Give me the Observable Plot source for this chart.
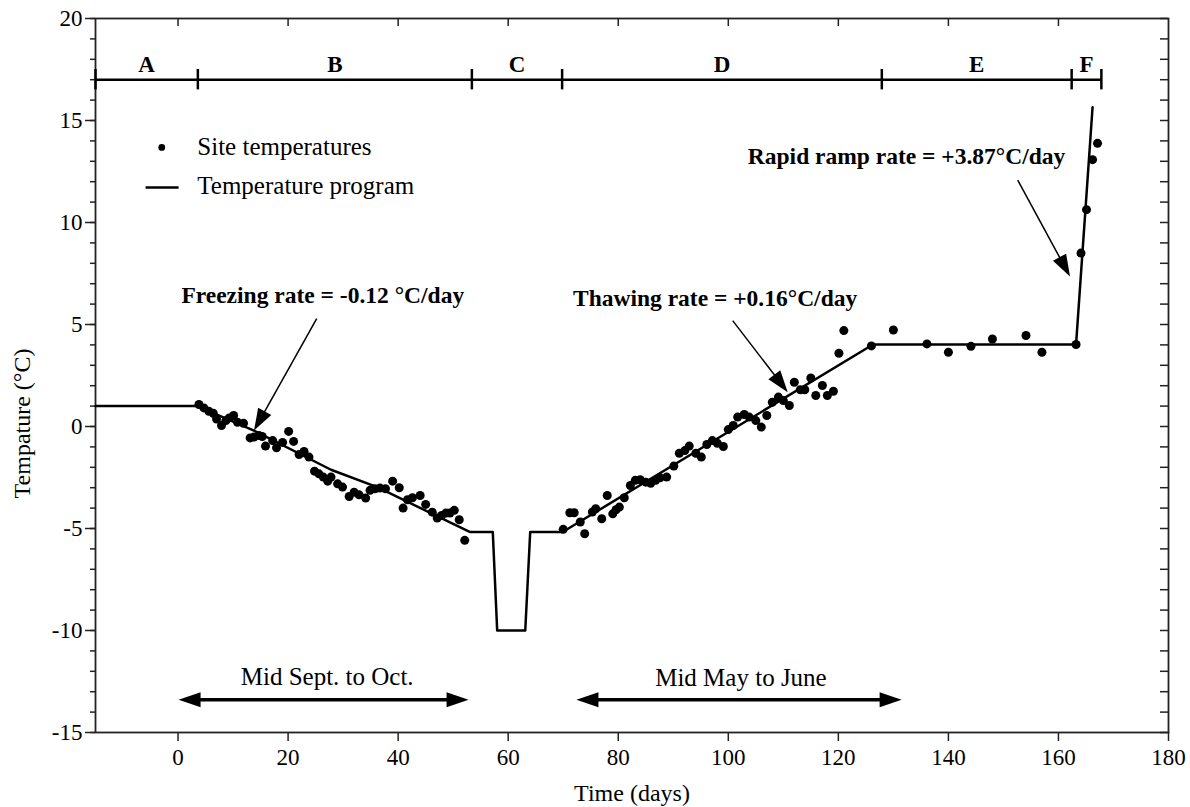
<!DOCTYPE html>
<html><head><meta charset="utf-8">
<script src="https://cdn.jsdelivr.net/npm/d3@7"></script>
<script src="https://cdn.jsdelivr.net/npm/@observablehq/plot@0.6"></script>
<style>
html,body{margin:0;padding:0;background:#fff;}
#chart{width:1190px;height:807px;}
</style></head><body><div id="chart"></div>
<script>
// ---------- data ----------
const siteDay = [3.8,4.7,5.6,6.4,7.0,7.9,8.7,9.3,10.1,10.8,11.9,13.1,13.8,14.7,15.3,15.9,17.2,17.9,19.0,20.1,21.0,22.0,22.9,23.8,24.8,25.6,26.4,27.2,27.8,29.0,29.9,31.1,32.0,32.9,34.1,34.9,35.8,36.7,37.7,39.0,40.2,40.9,41.7,42.6,44.0,45.0,46.2,47.1,47.9,48.7,49.4,50.2,51.1,52.1,
  70.0,71.2,72.0,73.1,73.9,75.3,75.9,77.0,78.0,79.0,79.6,80.2,81.1,82.2,83.1,84.0,85.0,85.9,86.8,87.6,88.8,90.1,91.1,92.1,92.9,94.1,95.1,96.1,97.1,98.0,99.1,100.0,100.9,101.7,102.9,103.8,105.0,106.0,107.0,108.0,109.1,110.0,111.1,112.0,113.1,113.9,115.0,115.9,117.1,118.0,119.1,120.1,121.0,
  126.0,130.0,136.1,140.0,144.1,148.0,154.1,157.0,163.2,164.1,165.1,166.2,167.1];
const siteTemp = [1.08,0.91,0.75,0.65,0.37,0.05,0.29,0.42,0.54,0.21,0.16,-0.56,-0.52,-0.44,-0.49,-0.96,-0.69,-1.04,-0.78,-0.24,-0.73,-1.37,-1.22,-1.50,-2.19,-2.32,-2.48,-2.68,-2.48,-2.81,-2.97,-3.43,-3.22,-3.35,-3.51,-3.13,-3.05,-3.02,-3.05,-2.68,-3.00,-4.00,-3.59,-3.49,-3.38,-3.82,-4.20,-4.49,-4.36,-4.24,-4.24,-4.11,-4.57,-5.58,
  -5.04,-4.23,-4.23,-4.68,-5.26,-4.19,-4.03,-4.52,-3.38,-4.28,-4.08,-3.95,-3.49,-2.89,-2.64,-2.61,-2.73,-2.78,-2.64,-2.51,-2.48,-1.94,-1.31,-1.18,-0.96,-1.31,-1.50,-0.88,-0.69,-0.82,-0.98,-0.15,0.05,0.46,0.59,0.46,0.29,-0.03,0.54,1.19,1.44,1.27,1.03,2.17,1.80,1.80,2.38,1.52,2.01,1.52,1.73,3.59,4.70,
  3.95,4.73,4.05,3.64,3.93,4.29,4.46,3.64,4.02,8.50,10.63,13.08,13.88];

const programDay  = [-15, 3.5, 13.8, 27.8, 36.2, 53.0, 57.2, 58.0, 63.1, 64.0, 69.9, 126.3, 163.2, 166.2];
const programTemp = [1.0, 1.0, -0.2, -2.12, -2.97, -5.17, -5.17, -10, -10, -5.17, -5.17, 4.02, 4.02, 15.65];

const phaseNames  = ["A", "B", "C", "D", "E", "F"];
const phaseBounds = [-15, 3.6, 53.4, 69.8, 127.9, 162.4, 167.8];
const phaseLevel  = 17.0;

const xTicks = [0, 20, 40, 60, 80, 100, 120, 140, 160, 180];
const yTicks = [-15, -10, -5, 0, 5, 10, 15, 20];
const yMinorTicks = d3.range(-15, 21);

const legendLabels = ["Site temperatures", "Temperature program"];
const rateLabels   = ["Freezing rate = -0.12 °C/day", "Thawing rate = +0.16°C/day", "Rapid ramp rate = +3.87°C/day"];
const seasonLabels = ["Mid Sept. to Oct.", "Mid May to June"];
const xTitle = "Time (days)";
const yTitle = "Tempature (°C)";

// ---------- layout (not data) ----------
const W = 1190, H = 807, ML = 95, MR = 22, MT = 18, MB = 75;
const xDomain = [-15, 180], yDomain = [-15, 20];
const kx = (W - ML - MR) / (xDomain[1] - xDomain[0]);
const ky = (H - MT - MB) / (yDomain[1] - yDomain[0]);
const FONT = "Liberation Serif, Times New Roman, serif";

// annotation anchors in data units
const rateTextPos = [{x: 26.3, y: 6.06}, {x: 97.6, y: 5.93}, {x: 132.4, y: 12.88}];
const rateArrowPos = [[25.2, 5.29, 13.8, -0.2], [100.8, 5.19, 110.8, 1.68], [152.6, 12.08, 162.1, 7.35]];
const seasonArrowPos = [[0.1, 52.8, -13.4], [72.4, 131.5, -13.4]];
const seasonTextPos = [{x: 27.1, y: -12.65}, {x: 102.3, y: -12.7}];
const legendPos = {dotX: -2.96, dotY: 13.68, textX: 3.5, t1: 13.32, lineX1: -5.9, lineX2: 0.1, lineY: 11.72, t2: 11.41};

// ---------- derived tables ----------
const site = siteDay.map((d, i) => ({day: d, temp: siteTemp[i]}));
const program = programDay.map((d, i) => ({day: d, temp: programTemp[i]}));
const phases = phaseNames.map((n, i) => ({name: n, x1: phaseBounds[i], x2: phaseBounds[i + 1]}));

const HEAD_L = 22, HEAD_W = 15;
const arrowHead = {draw(ctx) { ctx.moveTo(0, 0); ctx.lineTo(-HEAD_L, -HEAD_W / 2); ctx.lineTo(-HEAD_L, HEAD_W / 2); ctx.closePath(); }};

function angleOf(x1, y1, x2, y2) {
  return Math.atan2(-(y2 - y1) * ky, (x2 - x1) * kx) * 180 / Math.PI;
}
const rateLines = rateArrowPos.map(([x1, y1, x2, y2]) => {
  const dxp = (x2 - x1) * kx, dyp = (y2 - y1) * ky, len = Math.hypot(dxp, dyp);
  const f = (len - HEAD_L * 0.6) / len;
  return {x1, y1, x2: x1 + (x2 - x1) * f, y2: y1 + (y2 - y1) * f};
});
const rateHeads = rateArrowPos.map(([x1, y1, x2, y2]) => ({x: x2, y: y2, r: angleOf(x1, y1, x2, y2)}));
const seasonLines = seasonArrowPos.map(([a, b, y]) => ({x1: a + HEAD_L * 0.5 / kx, x2: b - HEAD_L * 0.5 / kx, y}));
const seasonHeads = seasonArrowPos.flatMap(([a, b, y]) => [{x: a, y, r: 180}, {x: b, y, r: 0}]);

const fmt = d => String(d);

const plot = Plot.plot({
  width: W, height: H,
  marginLeft: ML, marginRight: MR, marginTop: MT, marginBottom: MB,
  x: {domain: xDomain, label: null},
  y: {domain: yDomain, label: null},
  style: {fontFamily: FONT, fontSize: "23px", color: "black", background: "white"},
  marks: [
    // axes
    Plot.axisY({ticks: yMinorTicks, tickSize: 5, fill: "none", stroke: "#222", strokeWidth: 1.5, label: null}),
    Plot.axisY({ticks: yTicks, tickSize: 10, tickPadding: 3, tickFormat: fmt, fontSize: 23, fill: "black", stroke: "#222", strokeWidth: 1.5, label: null}),
    Plot.axisX({ticks: xTicks, anchor: "bottom", tickSize: 9, tickPadding: 7, tickFormat: fmt, fontSize: 23, fill: "black", stroke: "#222", strokeWidth: 1.5, label: null}),
    Plot.tickX(xTicks.slice(0, -1), {x: d => d, insetBottom: H - MT - MB - 8, stroke: "#222", strokeWidth: 1.5}),
    Plot.tickY(yMinorTicks, {y: d => d, insetLeft: W - ML - MR - 8, stroke: "#222", strokeWidth: 1.5}),
    Plot.frame({stroke: "#222", strokeWidth: 1.8}),
    Plot.text([xTitle], {frameAnchor: "bottom", dy: 68, textAnchor: "middle", lineAnchor: "bottom", fontSize: 24, fill: "black"}),
    Plot.text([yTitle], {frameAnchor: "left", dx: -73, dy: 48, rotate: -90, textAnchor: "middle", lineAnchor: "middle", fontSize: 24, fill: "black"}),

    // phase bar
    Plot.ruleY([phaseLevel], {x1: phaseBounds[0], x2: phaseBounds[phaseBounds.length - 1], stroke: "black", strokeWidth: 2.5}),
    Plot.ruleX(phaseBounds, {x: d => d, y1: phaseLevel - 0.5, y2: phaseLevel + 0.5, stroke: "black", strokeWidth: 2.5}),
    Plot.text(phases, {x: d => (d.x1 + d.x2) / 2, y: phaseLevel + 0.39, text: "name", textAnchor: "middle", lineAnchor: "bottom", fontWeight: "bold", fontSize: 23, fill: "black"}),

    // program line and site temperatures
    Plot.line(program, {x: "day", y: "temp", stroke: "black", strokeWidth: 2.5}),
    Plot.dot(site, {x: "day", y: "temp", r: 4.5, fill: "black", stroke: "none"}),

    // legend
    Plot.dot([legendLabels[0]], {x: legendPos.dotX, y: legendPos.dotY, r: 3.4, fill: "black", stroke: "none"}),
    Plot.link([legendLabels[1]], {x1: legendPos.lineX1, x2: legendPos.lineX2, y1: legendPos.lineY, y2: legendPos.lineY, stroke: "black", strokeWidth: 2.5}),
    Plot.text(legendLabels, {x: legendPos.textX, y: (d, i) => i === 0 ? legendPos.t1 : legendPos.t2, text: d => d, textAnchor: "start", lineAnchor: "bottom", fontSize: 25, fill: "black"}),

    // rate annotations
    Plot.text(rateLabels, {x: (d, i) => rateTextPos[i].x, y: (d, i) => rateTextPos[i].y, text: d => d, textAnchor: "middle", lineAnchor: "bottom", fontWeight: "bold", fontSize: 23.5, fill: "black"}),
    Plot.link(rateLines, {x1: "x1", y1: "y1", x2: "x2", y2: "y2", stroke: "black", strokeWidth: 1.5}),
    Plot.dot(rateHeads, {x: "x", y: "y", rotate: "r", symbol: arrowHead, r: 5, fill: "black", stroke: "none"}),

    // season arrows
    Plot.link(seasonLines, {x1: "x1", x2: "x2", y1: "y", y2: "y", stroke: "black", strokeWidth: 3.5}),
    Plot.dot(seasonHeads, {x: "x", y: "y", rotate: "r", symbol: arrowHead, r: 5, fill: "black", stroke: "none"}),
    Plot.text(seasonLabels, {x: (d, i) => seasonTextPos[i].x, y: (d, i) => seasonTextPos[i].y, text: d => d, textAnchor: "middle", lineAnchor: "bottom", fontSize: 25, fill: "black"})
  ]
});
document.getElementById("chart").appendChild(plot);
</script></body></html>
